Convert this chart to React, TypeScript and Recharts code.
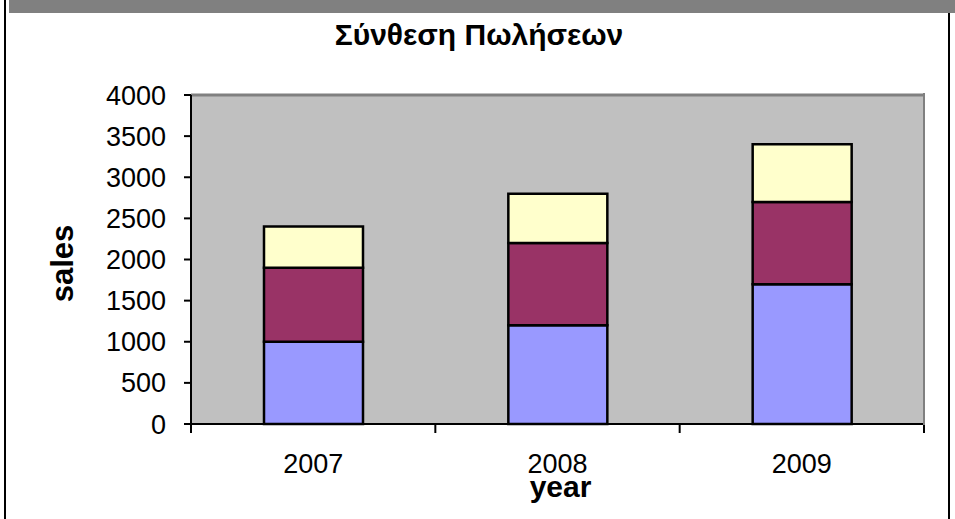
import React from "react"
import { BarChart, Bar, XAxis, YAxis, CartesianGrid, ReferenceLine } from "recharts"

const years = ["2007", "2008", "2009"]
const salesBlue = [1000, 1200, 1700]
const salesMaroon = [900, 1000, 1000]
const salesYellow = [500, 600, 700]
const yTicks = [0, 500, 1000, 1500, 2000, 2500, 3000, 3500, 4000]

const data = years.map((year, i) => ({
  year,
  blue: salesBlue[i],
  maroon: salesMaroon[i],
  yellow: salesYellow[i],
}))

const FONT = '"Liberation Sans", Arial, sans-serif'

// category ticks: label at band centre, tick marks on the band edges (Excel style)
const YearTick = (props: any) => {
  const { x, y, payload, index, visibleTicksCount } = props
  const half = payload?.offset ?? 0
  const isLast = index === visibleTicksCount - 1
  return (
    <g>
      <line x1={x - half} y1={y} x2={x - half} y2={y + 9} stroke="#000" strokeWidth={2} />
      {isLast && <line x1={x + half} y1={y} x2={x + half} y2={y + 9} stroke="#000" strokeWidth={2} />}
      <text x={x} y={y + 49} textAnchor="middle" fontSize={27} fill="#000">
        {payload.value}
      </text>
    </g>
  )
}

const SalesLabel = (props: any) => {
  const vb = props.viewBox ?? props
  const cx = vb.x + 62
  const cy = vb.y + vb.height / 2 + 4
  return (
    <text
      x={cx}
      y={cy}
      transform={`rotate(-90 ${cx} ${cy})`}
      textAnchor="middle"
      dominantBaseline="central"
      fontSize={31}
      fontWeight="bold"
      fill="#000"
    >
      sales
    </text>
  )
}

const YearLabel = (props: any) => {
  const vb = props.viewBox ?? props
  return (
    <text x={vb.x + vb.width / 2 + 3} y={vb.y + 73} textAnchor="middle" fontSize={30} fontWeight="bold" fill="#000">
      year
    </text>
  )
}

export default function App() {
  return (
    <div style={{ position: "fixed", left: 0, top: 0, width: 955, height: 519, background: "#fff", fontFamily: FONT }}>
      <div style={{ position: "absolute", left: 9, top: 0, right: 0, height: 13, background: "#808080" }} />
      <div style={{ position: "absolute", left: 4, top: 0, width: 2, height: 519, background: "#000" }} />
      <div style={{ position: "absolute", left: 948, top: 13, width: 2, height: 506, background: "#000" }} />
      <div
        style={{
          position: "absolute",
          left: 0,
          top: 17,
          width: 958,
          textAlign: "center",
          fontSize: 30,
          fontWeight: "bold",
          lineHeight: "36px",
        }}
      >
        Σύνθεση Πωλήσεων
      </div>
      <div style={{ position: "absolute", left: 0, top: 0 }}>
        <BarChart width={955} height={519} data={data} margin={{ top: 95, right: 31, bottom: 0, left: 0 }}>
          <CartesianGrid horizontal={false} vertical={false} fill="#C0C0C0" />
          <XAxis
            dataKey="year"
            height={95}
            axisLine={{ stroke: "#000", strokeWidth: 2 }}
            tickLine={false}
            tickSize={0}
            tickMargin={0}
            tick={<YearTick />}
            label={<YearLabel />}
          />
          <YAxis
            domain={[0, 4000]}
            ticks={yTicks}
            width={191}
            tickSize={7}
            tickMargin={18}
            axisLine={{ stroke: "#000", strokeWidth: 2 }}
            tickLine={{ stroke: "#000", strokeWidth: 2 }}
            tick={{ fill: "#000", fontSize: 27 }}
            label={<SalesLabel />}
          />
          <ReferenceLine y={4000} stroke="#808080" strokeWidth={3} />
          <Bar dataKey="blue" stackId="s" barSize={99} fill="#9999FF" stroke="#000" strokeWidth={2.5} isAnimationActive={false} />
          <Bar dataKey="maroon" stackId="s" barSize={99} fill="#993366" stroke="#000" strokeWidth={2.5} isAnimationActive={false} />
          <Bar dataKey="yellow" stackId="s" barSize={99} fill="#FFFFCC" stroke="#000" strokeWidth={2.5} isAnimationActive={false} />
        </BarChart>
      </div>
      <div style={{ position: "absolute", left: 923, top: 93, width: 2, height: 332, background: "#808080" }} />
    </div>
  )
}
